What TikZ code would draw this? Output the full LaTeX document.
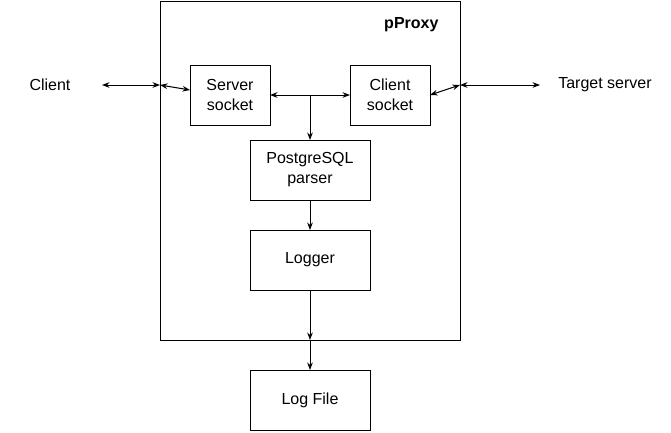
\documentclass[tikz,border=0pt]{standalone}
\usepackage{fontspec}
\setmainfont{Liberation Sans}
\usetikzlibrary{arrows.meta, positioning}

\begin{document}
\begin{tikzpicture}[x=1pt, y=-1pt, node distance=30pt,
        box/.style={draw, line width=1pt, outer sep=0pt, minimum width=80pt, minimum height=60pt, align=center, font=\fontsize{16}{20}\selectfont},
        wide/.style={box, minimum width=120pt},
        lbl/.style={font=\fontsize{16}{20}\selectfont}]
        \useasboundingbox (0,0) rectangle (671,432);
        \node (pproxy) [draw, line width=1pt, outer sep=0pt, minimum width=300pt, minimum height=339pt] at (310,170.5) {};
        \node (title) [lbl, font=\fontsize{16}{20}\selectfont\bfseries, anchor=east] at (442,25) {pProxy};
        \node (client) [lbl] at (50,85) {Client};
        \node (target) [lbl] at (605,85) {Target server};
        \node (ssock) [box] at (230,95) {Server\\socket};
        \node (csock) [box] at (390,95) {Client\\socket};
        \node (parser) [wide] at (310,170) {PostgreSQL\\parser};
        \node (logger) [wide, below = of parser] {Logger};
        \node (logfile) [wide, below = 80pt of logger] {Log File};
        \coordinate (cl) at (102,85);
        \coordinate (tl) at (540,85);
        \coordinate (lin) at (160,85);
        \coordinate (rin) at (460,85);
        \coordinate (junc) at (310,95);
        \coordinate (bout) at (310,340);
        \path [{Stealth}-{Stealth}, line width=1pt]
            (cl) edge (lin)
            (lin) edge ([yshift=5pt]ssock.west)
            (ssock.east) edge (csock.west)
            (csock.east) edge (rin)
            (rin) edge (tl)
            ;
        \path [-{Stealth}, line width=1pt]
            (junc) edge (parser)
            (parser) edge (logger)
            (logger) edge (bout)
            (bout) edge (logfile)
            ;
    \end{tikzpicture}
\end{document}
